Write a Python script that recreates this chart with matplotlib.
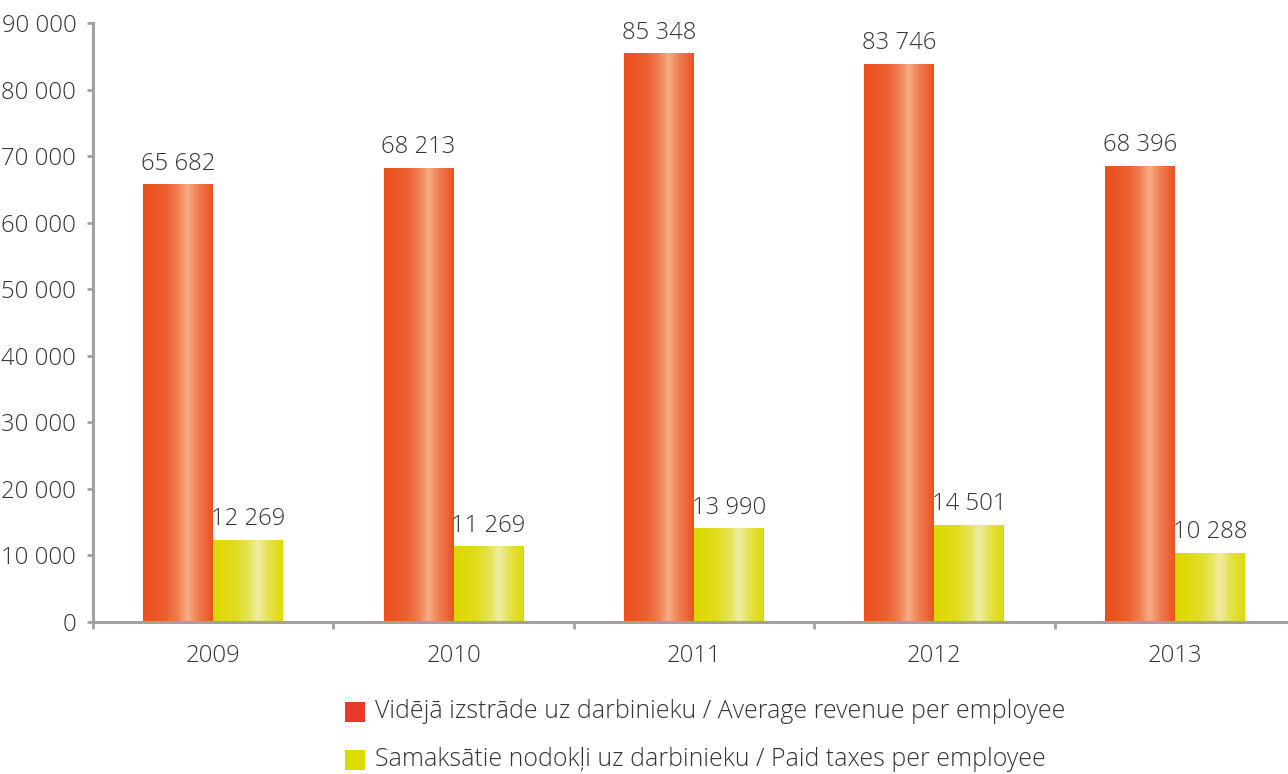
import numpy as np
import matplotlib
matplotlib.use("Agg")
import matplotlib.pyplot as plt
from matplotlib.patches import Rectangle
from matplotlib.colors import to_rgb

# ── Data ───────────────────────────────────────────────────────────────────────
years = ["2009", "2010", "2011", "2012", "2013"]
revenue = [65682, 68213, 85348, 83746, 68396]
taxes = [12269, 11269, 13990, 14501, 10288]
labels = ["Vidējā izstrāde uz darbinieku / Average revenue per employee",
          "Samaksātie nodokļi uz darbinieku / Paid taxes per employee"]

# ── Style ──────────────────────────────────────────────────────────────────────
plt.rcParams["font.family"] = ["Open Sans", "DejaVu Sans"]
plt.rcParams["font.weight"] = "light"
TXT = "#333333"
AXC = "#a3a09d"
OR_DARK, OR_LIGHT = "#e94f1d", "#f6ae88"
YE_DARK, YE_LIGHT = "#dcd900", "#f1eca6"
LEG_OR, LEG_YE = "#e8392a", "#dfdc00"
FS = 17.2
LEG_FS = 17.9
BAR_W = 0.291


def shaded_bar(ax, x0, x1, h, dark, light):
    """Bar with a cylinder-like horizontal gradient."""
    t = np.linspace(0, 1, 200)
    b = np.interp(t, [0, 0.3, 0.5, 0.64, 0.8, 1.0], [0, 0.15, 0.5, 1.0, 0.45, 0.05])
    d, l = np.array(to_rgb(dark)), np.array(to_rgb(light))
    img = d[None, :] + b[:, None] * (l - d)[None, :]
    ax.imshow(img[None, :, :], extent=[x0, x1, 0, h], aspect="auto",
              interpolation="bilinear", zorder=2)


fig = plt.figure(figsize=(12.88, 7.74), dpi=100)
ax = fig.add_axes([93 / 1288, 152 / 774, 1202 / 1288, 599 / 774])

x = np.arange(len(years))
for i in x:
    shaded_bar(ax, i - BAR_W, i, revenue[i], OR_DARK, OR_LIGHT)
    shaded_bar(ax, i, i + BAR_W, taxes[i], YE_DARK, YE_LIGHT)
    ax.text(i - BAR_W / 2, revenue[i] + 1400, f"{revenue[i]:,}".replace(",", " "),
            ha="center", va="bottom", fontsize=FS, color=TXT)
    ax.text(i + BAR_W / 2, taxes[i] + 1400, f"{taxes[i]:,}".replace(",", " "),
            ha="center", va="bottom", fontsize=FS, color=TXT)

ax.set_xlim(-0.5, len(years) - 0.5)
ax.set_ylim(0, 90000)
ax.set_yticks(np.arange(0, 90001, 10000))
ax.set_yticklabels([f"{v:,}".replace(",", " ") for v in range(0, 90001, 10000)])
ax.set_xticks(x)
ax.set_xticklabels(years)
ax.set_xticks(np.arange(-0.5, len(years), 1), minor=True)

for s in ["top", "right"]:
    ax.spines[s].set_visible(False)
for s in ["left", "bottom"]:
    ax.spines[s].set_color(AXC)
    ax.spines[s].set_linewidth(2.2)
ax.tick_params(axis="y", direction="out", length=4, width=2, color=AXC,
               labelsize=FS, labelcolor=TXT, pad=8)
ax.tick_params(axis="x", which="major", length=0, labelsize=FS,
               labelcolor=TXT, pad=16)
ax.tick_params(axis="x", which="minor", direction="out", length=5, width=2,
               color=AXC)
ax.set_facecolor("white")

# ── Legend ─────────────────────────────────────────────────────────────────────
for k, (lab, col) in enumerate(zip(labels, [LEG_OR, LEG_YE])):
    yc = (774 - 712 - 48 * k) / 774
    fig.patches.append(Rectangle((345 / 1288, yc - 10 / 774), 20 / 1288, 20 / 774,
                                 transform=fig.transFigure, facecolor=col,
                                 edgecolor="none"))
    fig.text(375 / 1288, yc, lab, ha="left", va="center", fontsize=LEG_FS, color=TXT)

fig.savefig("out.png", dpi=100, facecolor="white")
